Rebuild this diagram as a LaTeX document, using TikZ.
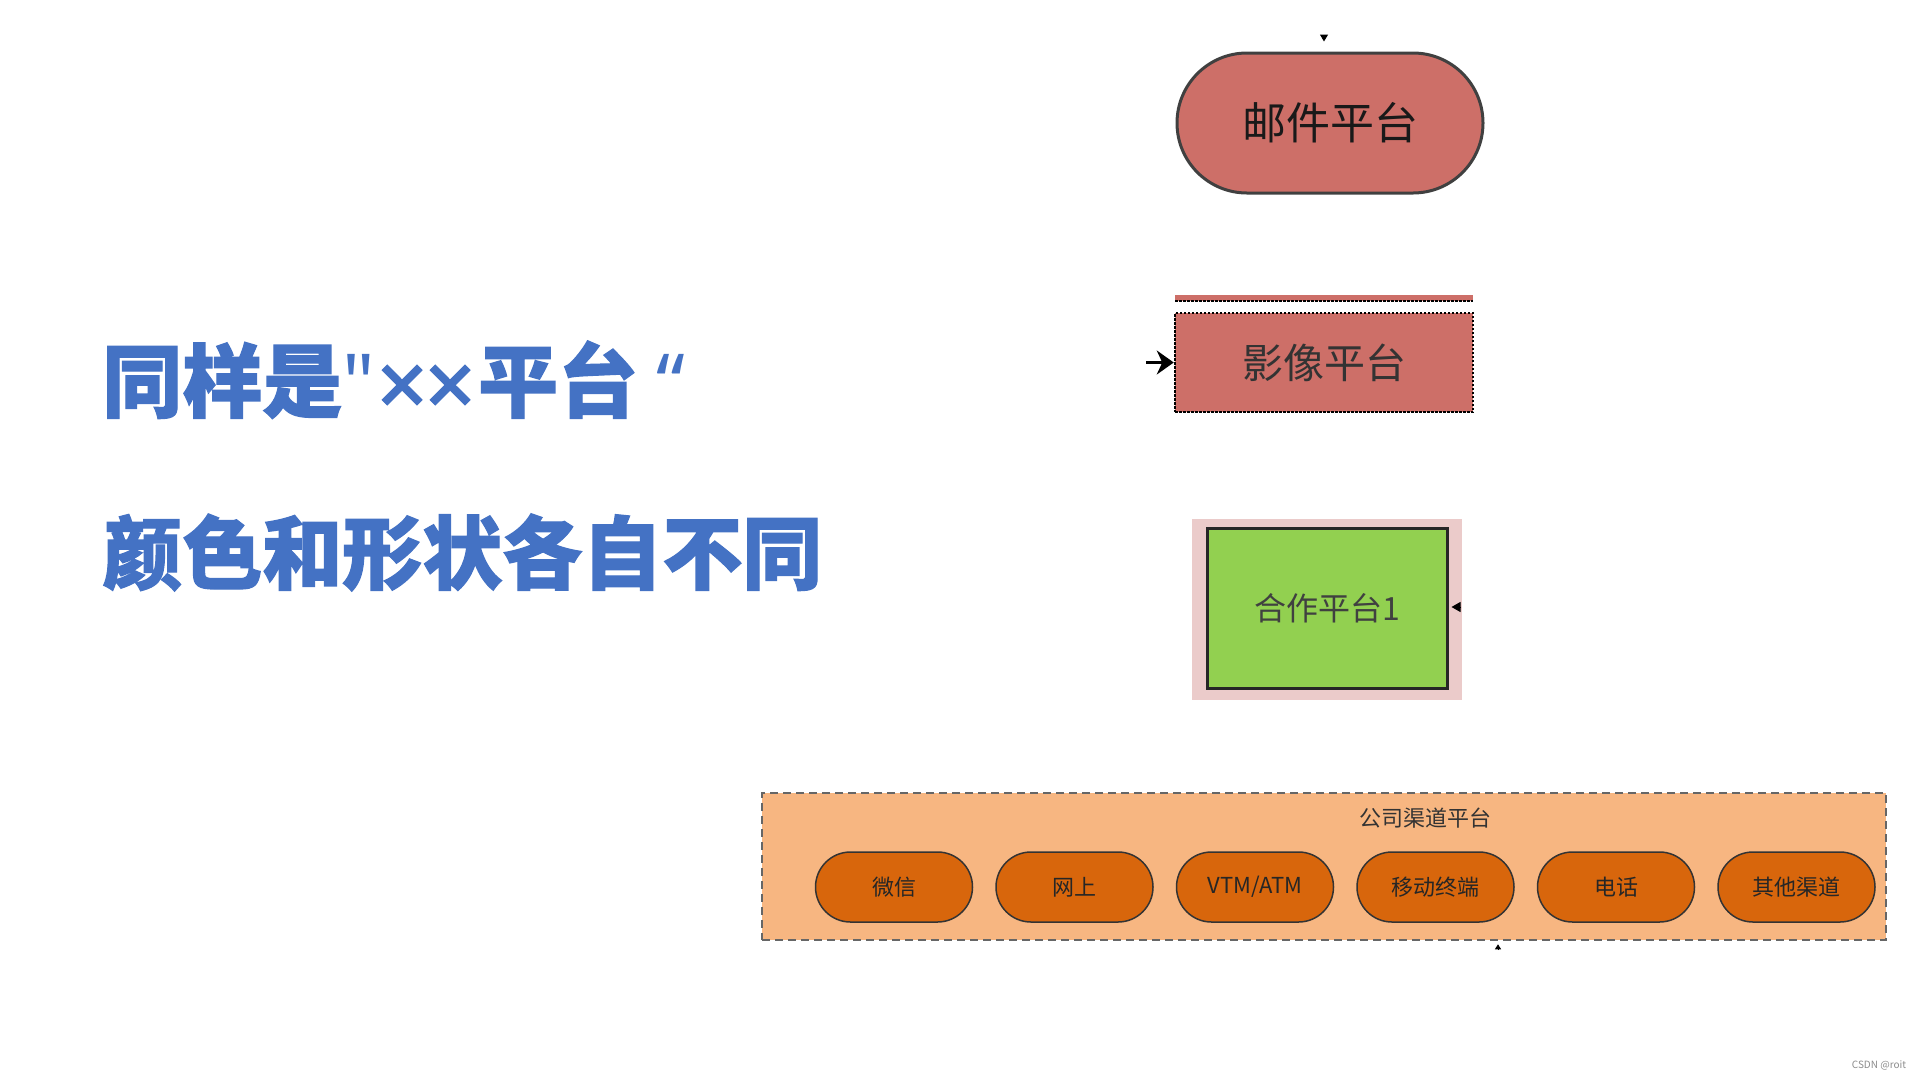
\documentclass[tikz,border=0pt]{standalone}
\usepackage{fontspec}
\setmainfont{Noto Sans CJK SC}
\newfontfamily\headcjk{Noto Sans CJK SC}[BoldFeatures={FakeBold=1.5}]
\newfontfamily\headlatin{Noto Sans}[Ligatures=TeXOff, BoldFeatures={FakeBold=2.5}]
\newcommand\headx{\makebox[48pt][c]{\fontsize{60}{60}\selectfont\raisebox{3pt}{×}}}
\usetikzlibrary{positioning,arrows.meta}

\definecolor{headblue}{HTML}{4472C4}
\definecolor{platred}{HTML}{CD6F68}
\definecolor{coopgreen}{HTML}{92D050}
\definecolor{cooppink}{HTML}{EBCBCA}
\definecolor{chanbg}{HTML}{F7B681}
\definecolor{chanfill}{HTML}{D8660C}

\tikzset{
  headline/.style={anchor=base west, inner sep=0pt, text=headblue, font=\fontsize{80}{82}\selectfont\headcjk\bfseries},
  chanpill/.style={draw=black!80, line width=1.5pt, fill=chanfill, rounded corners=35pt,
    minimum width=157pt, minimum height=70pt, inner sep=0pt, text=black!85, font=\fontsize{22}{24}\selectfont},
  tip/.style={line width=1pt, -{Triangle[length=#1, width=#1+1pt]}},
}

\begin{document}
\begin{tikzpicture}[x=1pt,y=-1pt,thick]
 \useasboundingbox (0,0) rectangle (1920,1080);
 % headline
 \node[headline] (head1) at (102,411) {同样是{\headlatin\bfseries"}\hspace{3pt}\headx\headx\hspace{4pt}平台 {\headlatin\bfseries“}};
 \node[headline] (head2) at (102,583) {颜色和形状各自不同};

 % mail
 \node[draw=black!75, line width=3pt, fill=platred, rounded corners=70pt, minimum width=306pt, minimum height=140pt,
   text=black!90, font=\fontsize{44}{46}\selectfont] (mail) at (1330,123) {邮件平台};
 \coordinate (mailin) at (1324,35);
 \draw[tip=7pt, shorten >=10pt] (mailin) -- (mailin |- mail.north);

 % image
 \fill[platred] (1175,295) rectangle (1473,301);
 \draw[line width=2.5pt, dash pattern=on 2.5pt off 1.5pt] (1175,301) -- (1473,301);
 \node[draw=black, line width=2.5pt, dash pattern=on 2.5pt off 1.5pt, fill=platred, minimum width=298pt, minimum height=99pt,
   text=black!80, font=\fontsize{41}{43}\selectfont] (img) at (1324,362.5) {影像平台};
 \coordinate (imgin) at (1146,362.5);
 \draw[line width=2.5pt, -{Stealth[length=17pt, width=24pt]}] (imgin) -- (img.west);

 % coop
 \node[fill=cooppink, minimum width=270pt, minimum height=181pt] (coopbg) at (1327,609.5) {};
 \node[draw=black!85, line width=3pt, fill=coopgreen, minimum width=240pt, minimum height=160pt,
   text=black!75, font=\fontsize{32}{34}\selectfont] (coop) at (1327,608) {合作平台1};
 \coordinate (coopin) at (1461,607);
 \draw[tip=9pt, shorten >=3pt] (coopin) -- (coopin -| coop.east);

 % channels
 \node[draw=black!60, line width=2.5pt, dash pattern=on 8pt off 5pt, fill=chanbg,
   minimum width=1124pt, minimum height=147pt] (chan) at (1324,866.5) {};
 \node[text=black!80, font=\fontsize{22}{24}\selectfont] (chantitle) at (1425,818) {公司渠道平台};
 \node[chanpill] (wx) at (894,887) {微信};
 \node[chanpill, right=22pt of wx] (web) {网上};
 \node[chanpill, right=22pt of web] (vtm) {VTM/ATM};
 \node[chanpill, right=22pt of vtm] (mob) {移动终端};
 \node[chanpill, right=22pt of mob] (tel) {电话};
 \node[chanpill, right=22pt of tel] (other) {其他渠道};
 \coordinate (chanout) at (1498,950);
 \draw[tip=5pt, shorten >=3pt] (chanout) -- (chanout |- chan.south);

 \node[text=black!45, font=\fontsize{10}{12}\selectfont] (wmark) at (1879,1065) {CSDN @roit};
\end{tikzpicture}
\end{document}
